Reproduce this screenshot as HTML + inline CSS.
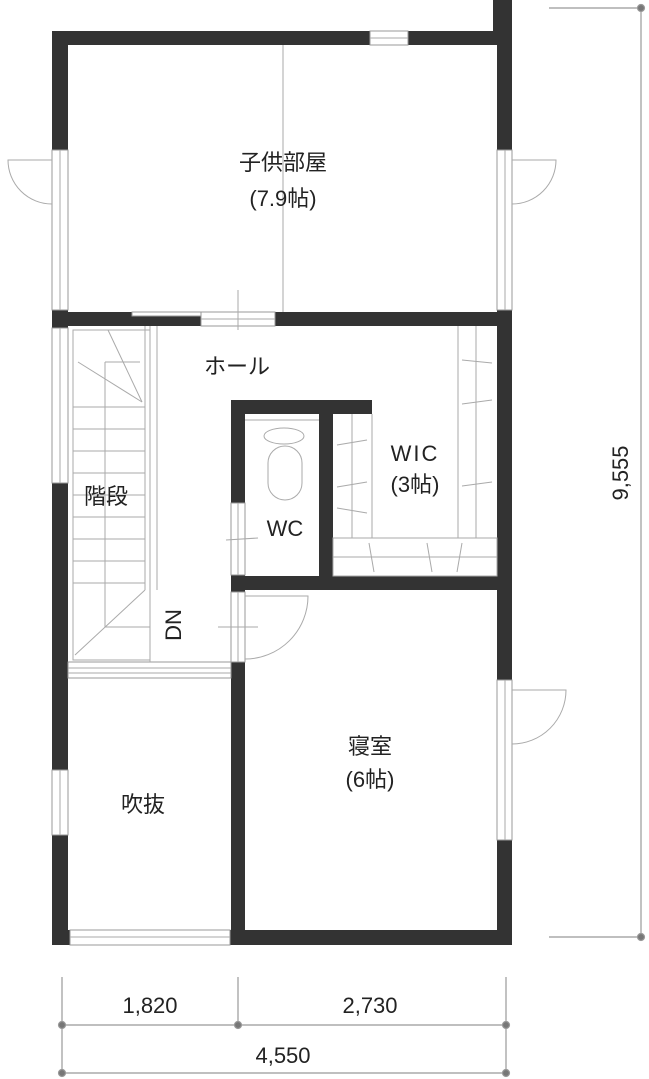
<!DOCTYPE html>
<html><head><meta charset="utf-8"><style>
html,body{margin:0;padding:0;background:#fff;}
svg{display:block;}
text{font-family:"Liberation Sans","Noto Sans CJK JP",sans-serif;fill:#222;}
</style></head><body>
<svg width="649" height="1079" viewBox="0 0 649 1079" xmlns="http://www.w3.org/2000/svg">
<g fill="#333">
<rect x="52" y="31" width="460" height="14"/>
<rect x="493" y="0" width="19" height="45"/>
<rect x="497" y="31" width="15" height="914"/>
<rect x="52" y="31" width="16" height="914"/>
<rect x="52" y="930" width="460" height="15"/>
<rect x="52" y="312" width="460" height="14"/>
<rect x="231" y="400" width="141" height="14"/>
<rect x="231" y="400" width="14" height="545"/>
<rect x="319" y="400" width="14" height="190"/>
<rect x="231" y="576" width="281" height="14"/>
</g>
<g fill="#fff" stroke="#999" stroke-width="1">
<rect x="370" y="31" width="38" height="14"/>
<rect x="52" y="150" width="16" height="160"/>
<rect x="497" y="150" width="15" height="160"/>
<rect x="52" y="328" width="16" height="155"/>
<rect x="52" y="770" width="16" height="65"/>
<rect x="497" y="680" width="15" height="160"/>
<rect x="70" y="930" width="160" height="15"/>
<rect x="201" y="312" width="74" height="14"/>
<rect x="132" y="312" width="69" height="4"/>
<rect x="231" y="503" width="14" height="72"/>
<rect x="231" y="592" width="14" height="70"/>
<rect x="68" y="662" width="163" height="16"/>
</g>
<g stroke="#aaa" stroke-width="1" fill="none">
<line x1="60" y1="150" x2="60" y2="310"/><line x1="505" y1="150" x2="505" y2="310"/>
<line x1="60" y1="328" x2="60" y2="483"/><line x1="60" y1="770" x2="60" y2="835"/>
<line x1="505" y1="680" x2="505" y2="840"/><line x1="70" y1="937" x2="230" y2="937"/>
<line x1="370" y1="38" x2="408" y2="38"/><line x1="201" y1="319" x2="275" y2="319"/>
<line x1="68" y1="668" x2="231" y2="668"/><line x1="68" y1="673" x2="231" y2="673"/>
<line x1="238" y1="503" x2="238" y2="575"/><line x1="238" y1="592" x2="238" y2="662"/>
<line x1="283" y1="45" x2="283" y2="312"/>
<path d="M52 160 L8 160 A44 44 0 0 0 52 204"/>
<path d="M512 160 L556 160 A44 44 0 0 1 512 204"/>
<path d="M512 690 L566 690 A54 54 0 0 1 512 744"/>
<path d="M245 596 L308 596 A63 63 0 0 1 245 659"/>
<line x1="238" y1="290" x2="238" y2="330"/>
<line x1="226" y1="540" x2="258" y2="538"/>
<line x1="218" y1="627" x2="258" y2="627"/>
<rect x="73" y="330" width="77" height="330"/>
<line x1="145" y1="326" x2="145" y2="590"/><line x1="150" y1="326" x2="150" y2="590"/><line x1="157" y1="326" x2="157" y2="590"/>
<path d="M105 362 L105 627 L150 627"/><line x1="105" y1="362" x2="140" y2="362"/>
<line x1="108" y1="330" x2="142" y2="402"/><line x1="78" y1="362" x2="142" y2="402"/>
<line x1="73" y1="407" x2="145" y2="407"/><line x1="73" y1="429" x2="145" y2="429"/>
<line x1="73" y1="451" x2="145" y2="451"/><line x1="73" y1="473" x2="145" y2="473"/>
<line x1="73" y1="495" x2="145" y2="495"/><line x1="73" y1="517" x2="145" y2="517"/>
<line x1="73" y1="539" x2="145" y2="539"/><line x1="73" y1="561" x2="145" y2="561"/>
<line x1="73" y1="583" x2="145" y2="583"/>
<line x1="145" y1="590" x2="75" y2="655"/>
<line x1="150" y1="590" x2="150" y2="662"/>
<line x1="245" y1="420" x2="319" y2="420"/>
<ellipse cx="284" cy="436" rx="20" ry="8"/>
<rect x="268" y="446" width="34" height="54" rx="17"/>
<line x1="458" y1="326" x2="458" y2="538"/><line x1="476" y1="326" x2="476" y2="538"/>
<line x1="372" y1="414" x2="372" y2="538"/><line x1="352" y1="414" x2="352" y2="538"/>
<rect x="333" y="538" width="164" height="38"/><line x1="333" y1="557" x2="497" y2="557"/>
<line x1="462" y1="360" x2="492" y2="363"/><line x1="462" y1="404" x2="492" y2="400"/>
<line x1="462" y1="486" x2="492" y2="482"/>
<line x1="337" y1="445" x2="367" y2="440"/><line x1="337" y1="487" x2="367" y2="482"/><line x1="337" y1="508" x2="367" y2="513"/>
<line x1="369" y1="543" x2="374" y2="572"/><line x1="427" y1="543" x2="432" y2="572"/><line x1="462" y1="543" x2="457" y2="572"/>
</g>
<g stroke="#999" stroke-width="1.2" fill="#777">
<line x1="549" y1="8" x2="641" y2="8"/><line x1="549" y1="937" x2="641" y2="937"/>
<line x1="641" y1="8" x2="641" y2="937"/>
<circle cx="641" cy="8" r="3.5"/><circle cx="641" cy="937" r="3.5"/>
<line x1="62" y1="977" x2="62" y2="1075"/><line x1="238" y1="977" x2="238" y2="1026"/><line x1="506" y1="977" x2="506" y2="1075"/>
<line x1="62" y1="1025" x2="506" y2="1025"/><line x1="62" y1="1073" x2="506" y2="1073"/>
<circle cx="62" cy="1025" r="3.5"/><circle cx="238" cy="1025" r="3.5"/><circle cx="506" cy="1025" r="3.5"/>
<circle cx="62" cy="1073" r="3.5"/><circle cx="506" cy="1073" r="3.5"/>
</g>
<g font-size="22" text-anchor="middle">
<text x="283" y="170">子供部屋</text>
<text x="283" y="206">(7.9帖)</text>
<text x="237" y="374">ホール</text>
<text x="106" y="504">階段</text>
<text x="285" y="536">WC</text>
<text x="415" y="461" letter-spacing="2">WIC</text>
<text x="415" y="492">(3帖)</text>
<text x="370" y="754">寝室</text>
<text x="370" y="787">(6帖)</text>
<text x="143" y="812">吹抜</text>
<text transform="translate(181,625) rotate(-90)">DN</text>
<text x="150" y="1013">1,820</text>
<text x="370" y="1013">2,730</text>
<text x="283" y="1063">4,550</text>
<text transform="translate(628,473) rotate(-90)">9,555</text>
</g>
</svg>
</body></html>
